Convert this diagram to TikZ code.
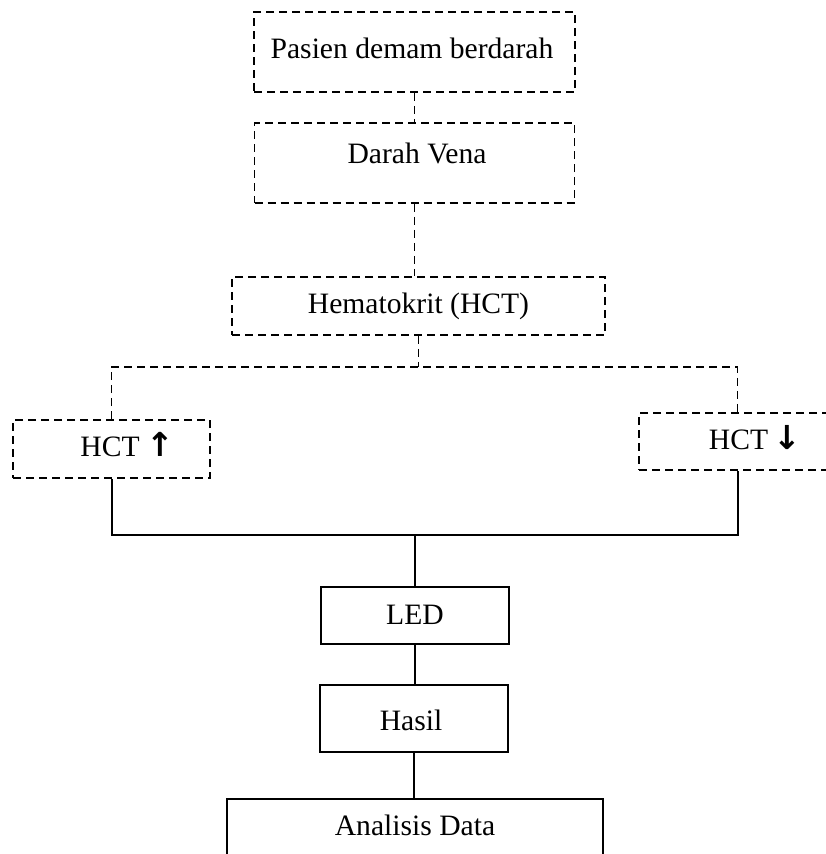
\documentclass[tikz,border=0pt]{standalone}
\usepackage{fontspec}
\setmainfont{Liberation Serif}
\newfontfamily\arrowfont{DejaVu Sans}
\begin{document}
\begin{tikzpicture}[x=1pt,y=-1pt,
  dbox/.style={draw, line width=1.6pt, dash pattern=on 8pt off 5pt, inner sep=0pt, rectangle},
  sbox/.style={draw, line width=2pt, inner sep=0pt, rectangle},
  dline/.style={line width=1.6pt, dash pattern=on 8pt off 5pt},
  sline/.style={line width=2pt},
  txt/.style={inner sep=0pt, anchor=base, font=\fontsize{29.6}{34}\selectfont},
  arr/.style={inner sep=0pt, anchor=base west, font=\arrowfont\bfseries\fontsize{33}{38}\selectfont}]
\useasboundingbox (0,0) rectangle (826,854);
\clip (0,0) rectangle (826,854);
% boxes
\node[dbox, minimum width=321pt, minimum height=80pt] (b1) at (414.5,52) {};
\node[dbox, minimum width=320pt, minimum height=80pt] (b2) at (414.5,163) {};
\node[dbox, minimum width=373pt, minimum height=58pt] (b3) at (418.5,306) {};
\node[dbox, minimum width=197pt, minimum height=58pt] (hu) at (111.5,449) {};
\node[dbox, minimum width=197pt, minimum height=57pt] (hd) at (737.5,441.5) {};
\node[sbox, minimum width=188pt, minimum height=57pt] (led) at (415,615.5) {};
\node[sbox, minimum width=188pt, minimum height=67pt] (hasil) at (414,718) {};
\node[sbox, minimum width=376pt, minimum height=120pt] (ana) at (415,859) {};
% texts
\node[txt] (t1) at (412,58) {Pasien demam berdarah};
\node[txt] (t2) at (417,163) {Darah Vena};
\node[txt] (t3) at (418.5,313) {Hematokrit (HCT)};
\node[txt] (t4) at (110,456) {HCT};
\node[arr] (a4) at (146,456) {↑};
\node[txt] (t5) at (738.5,449) {HCT};
\node[arr] (a5) at (773,449) {↓};
\node[txt] (t6) at (415,624) {LED};
\node[txt] (t7) at (411,730) {Hasil};
\node[txt] (t8) at (415,835) {Analisis Data};
% dashed connectors
\coordinate (j1) at (417,367);
\coordinate (j2) at (415,535);
\draw[dline] (b1.south) -- (b2.north);
\draw[dline] (b2.south) -- (b2.south |- b3.north);
\draw[dline] (b3.south) -- (b3.south |- j1);
\draw[dline] (hu.north) -- (hu.north |- j1) -- (hd.north |- j1) -- (hd.north);
% solid connectors
\draw[sline] (hu.south) -- (hu.south |- j2) -- (hd.south |- j2) -- (hd.south);
\draw[sline] (j2) -- (led.north);
\draw[sline] (led.south) -- (led.south |- hasil.north);
\draw[sline] (hasil.south) -- (hasil.south |- ana.north);
\end{tikzpicture}
\end{document}
